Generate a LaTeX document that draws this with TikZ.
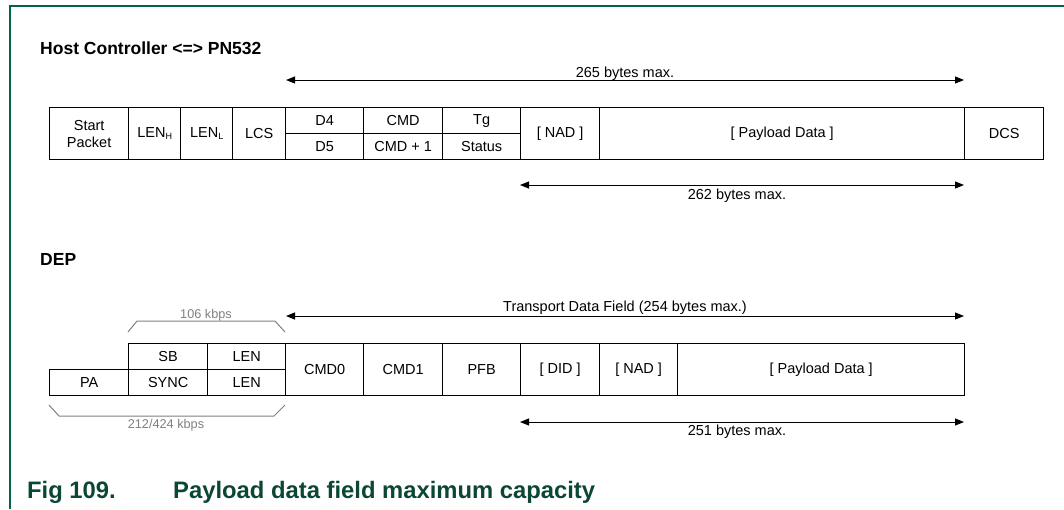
\documentclass[tikz,border=0pt]{standalone}
\usepackage{fontspec}
\setmainfont{Liberation Sans}
\usetikzlibrary{arrows.meta}
\definecolor{framegreen}{RGB}{0,100,72}
\definecolor{capgreen}{RGB}{12,70,52}
\definecolor{bracegray}{RGB}{128,128,128}
\newcommand{\sbs}[1]{\raisebox{-2pt}{\fontsize{9}{9}\selectfont #1}}
\tikzset{
  cell/.style={draw=black, line width=1.3pt, anchor=north west, inner sep=0pt,
    align=center, font=\fontsize{14.5}{17}\selectfont},
  dim/.style={line width=1pt, {Triangle[length=9pt,width=7pt]}-{Triangle[length=9pt,width=7pt]}},
  dimlabel/.style={anchor=base, inner sep=0pt, font=\fontsize{14.5}{17}\selectfont},
  brace/.style={draw=bracegray, line width=1pt},
  bracelabel/.style={anchor=base, inner sep=0pt, text=bracegray, font=\fontsize{12.7}{15}\selectfont},
  heading/.style={anchor=base west, inner sep=0pt, font=\fontsize{17.5}{20}\selectfont\bfseries},
  caption/.style={anchor=base west, inner sep=0pt, text=capgreen, font=\fontsize{23.8}{27}\selectfont\bfseries},
}
\begin{document}
\begin{tikzpicture}[x=1pt,y=-1pt]
\useasboundingbox (0,0) rectangle (1064,509);
% frame
\draw[framegreen, line width=1.3pt] (10,509) -- (10,6) -- (1064,6);
% headings
\node[heading] (h1) at (40,54) {Host Controller <=> PN532};
\node[heading] (h2) at (40,265) {DEP};
% top row
\node[cell, minimum width=79pt, minimum height=52pt] (sp) at (49,107) {Start\\Packet};
\node[cell, minimum width=52pt, minimum height=52pt] (lenh) at (128,107) {LEN\sbs{H}};
\node[cell, minimum width=52pt, minimum height=52pt] (lenl) at (180,107) {LEN\sbs{L}};
\node[cell, minimum width=53pt, minimum height=52pt] (lcs) at (232,107) {LCS};
\node[cell, minimum width=78pt, minimum height=26pt] (d4) at (285,107) {D4};
\node[cell, minimum width=78pt, minimum height=26pt] (d5) at (285,133) {D5};
\node[cell, minimum width=79pt, minimum height=26pt] (cmd) at (363,107) {CMD};
\node[cell, minimum width=79pt, minimum height=26pt] (cmdp) at (363,133) {CMD + 1};
\node[cell, minimum width=78pt, minimum height=26pt] (tg) at (442,107) {Tg};
\node[cell, minimum width=78pt, minimum height=26pt] (st) at (442,133) {Status};
\node[cell, minimum width=79pt, minimum height=52pt] (nad) at (520,107) {[ NAD ]};
\node[cell, minimum width=365pt, minimum height=52pt] (pay) at (599,107) {[ Payload Data ]};
\node[cell, minimum width=79pt, minimum height=52pt] (dcs) at (964,107) {DCS};
% top dimensions
\coordinate (a1l) at (286,80);
\coordinate (a1r) at (964,80);
\draw[dim] (a1l) -- (a1r);
\node[dimlabel] (l1) at (625,77) {265 bytes max.};
\coordinate (a2l) at (520,185);
\coordinate (a2r) at (964,185);
\draw[dim] (a2l) -- (a2r);
\node[dimlabel] (l2) at (737,199) {262 bytes max.};
% DEP row
\node[cell, minimum width=79pt, minimum height=26pt] (pa) at (49,369) {PA};
\node[cell, minimum width=79pt, minimum height=26pt] (sb) at (128,343) {SB};
\node[cell, minimum width=79pt, minimum height=26pt] (sync) at (128,369) {SYNC};
\node[cell, minimum width=78pt, minimum height=26pt] (lena) at (207,343) {LEN};
\node[cell, minimum width=78pt, minimum height=26pt] (lenb) at (207,369) {LEN};
\node[cell, minimum width=78pt, minimum height=52pt] (cmd0) at (285,343) {CMD0};
\node[cell, minimum width=79pt, minimum height=52pt] (cmd1) at (363,343) {CMD1};
\node[cell, minimum width=78pt, minimum height=52pt] (pfb) at (442,343) {PFB};
\node[cell, minimum width=79pt, minimum height=52pt] (did) at (520,343) {[ DID ]};
\node[cell, minimum width=78pt, minimum height=52pt] (nadb) at (599,343) {[ NAD ]};
\node[cell, minimum width=287pt, minimum height=52pt] (payb) at (677,343) {[ Payload Data ]};
% DEP dimensions
\coordinate (a3l) at (286,316);
\coordinate (a3r) at (964,316);
\draw[dim] (a3l) -- (a3r);
\node[dimlabel] (l3) at (625,311) {Transport Data Field (254 bytes max.)};
\coordinate (a4l) at (520,422);
\coordinate (a4r) at (964,422);
\draw[dim] (a4l) -- (a4r);
\node[dimlabel] (l4) at (737,435.5) {251 bytes max.};
% speed brackets
\draw[brace] (128,332) -- (137,321) -- (275,321) -- (285,332);
\node[bracelabel] (b1) at (206,318) {106 kbps};
\draw[brace] (49,405) -- (59,416) -- (274,416) -- (285,405);
\node[bracelabel] (b2) at (166,428) {212/424 kbps};
% caption
\node[caption] (c1) at (27,498) {Fig 109.};
\node[caption] (c2) at (173,498) {Payload data field maximum capacity};
\end{tikzpicture}
\end{document}
